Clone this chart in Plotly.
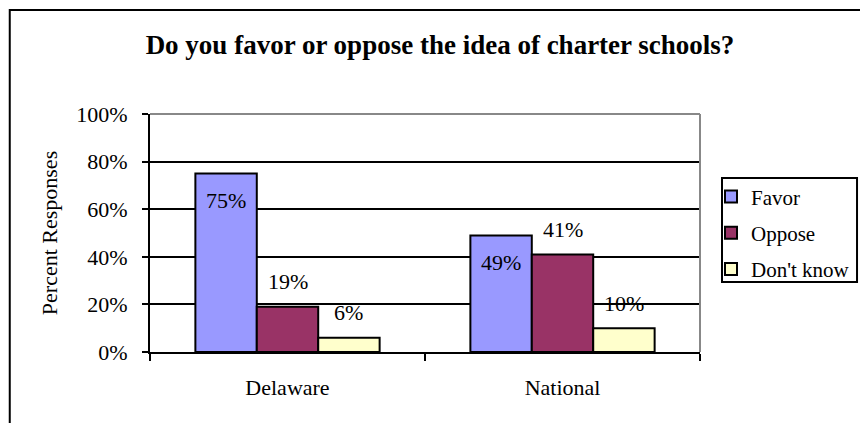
import plotly.graph_objects as go

# chart data
regions = ["Delaware", "National"]
series_names = ["Favor", "Oppose", "Don't know"]
favor = [0.75, 0.49]
oppose = [0.19, 0.41]
dont_know = [0.06, 0.10]
y_ticks = [0, 0.2, 0.4, 0.6, 0.8, 1.0]

colors = ["#9999FF", "#993366", "#FFFFCC"]
serif = "Liberation Serif, Times New Roman, serif"
FS = 22  # body text size

fig = go.Figure()

for idx, (name, values) in enumerate(zip(series_names, [favor, oppose, dont_know])):
    fig.add_trace(go.Bar(
        x=regions,
        y=values,
        name=name,
        legendgroup=name,
        marker=dict(color=colors[idx], line=dict(color="black", width=2)),
    ))

# data labels, Excel style: favor sits inside the bar top, others above
bargap = 0.33
bar_w = (1 - bargap) / len(series_names)
for idx, values in enumerate([favor, oppose, dont_know]):
    for i, v in enumerate(values):
        fig.add_annotation(
            x=i + (idx - 1) * bar_w,
            y=v,
            text=f"{round(v * 100)}%",
            showarrow=False,
            yshift=-27 if idx == 0 else 25,
            font=dict(family=serif, size=FS, color="black"),
        )

# gray top/right border of the plot area
fig.add_shape(type="line", xref="x domain", yref="y domain",
              x0=0, y0=1, x1=1, y1=1, line=dict(color="#888888", width=2))
fig.add_shape(type="line", xref="x domain", yref="y domain",
              x0=1, y0=0, x1=1, y1=1, line=dict(color="#888888", width=2))

# outer chart border
fig.add_shape(type="rect", xref="paper", yref="paper",
              x0=-0.255, y0=-0.6, x1=1.5, y1=1.437,
              line=dict(color="black", width=2), layer="below")

# legend frame drawn separately so it can be tighter than plotly's own
fig.add_shape(type="rect", xref="paper", yref="paper",
              x0=1.04, y0=0.294, x1=1.2855, y1=0.731,
              line=dict(color="black", width=2))

# the page body has an 8px margin, so the figure is laid out 8px up/left
fig.update_layout(
    width=868,
    height=423,
    margin=dict(l=142, r=176, t=106, b=79, autoexpand=False),
    paper_bgcolor="white",
    plot_bgcolor="white",
    barmode="group",
    bargap=bargap,
    bargroupgap=0,
    title=dict(
        text="<b>Do you favor or oppose the idea of charter schools?</b>",
        x=432 / 868, xref="container", xanchor="center",
        y=1 - 37 / 423, yref="container", yanchor="middle",
        font=dict(family=serif, size=27, color="black"),
    ),
    font=dict(family=serif, size=FS, color="black"),
    legend=dict(
        x=1.02, y=0.738, xanchor="left", yanchor="top",
        bgcolor="rgba(0,0,0,0)", borderwidth=0,
        font=dict(family=serif, size=21, color="black"),
        traceorder="grouped", tracegroupgap=6,
        itemwidth=30,
    ),
    xaxis=dict(
        showline=True, linecolor="black", linewidth=2,
        ticks="outside", tickson="boundaries", ticklen=7, tickwidth=2,
        tickcolor="black", ticklabelstandoff=15,
        showgrid=False,
    ),
    yaxis=dict(
        range=[0, 1],
        tickvals=y_ticks,
        tickformat=".0%",
        showline=True, linecolor="black", linewidth=2,
        ticks="outside", ticklen=6, tickwidth=2, tickcolor="black",
        ticklabelstandoff=10,
        showgrid=True, gridcolor="black", gridwidth=2,
        zeroline=False,
        title=dict(text="Percent Responses", standoff=13,
                   font=dict(family=serif, size=FS)),
    ),
)

fig.write_html("out.html")
